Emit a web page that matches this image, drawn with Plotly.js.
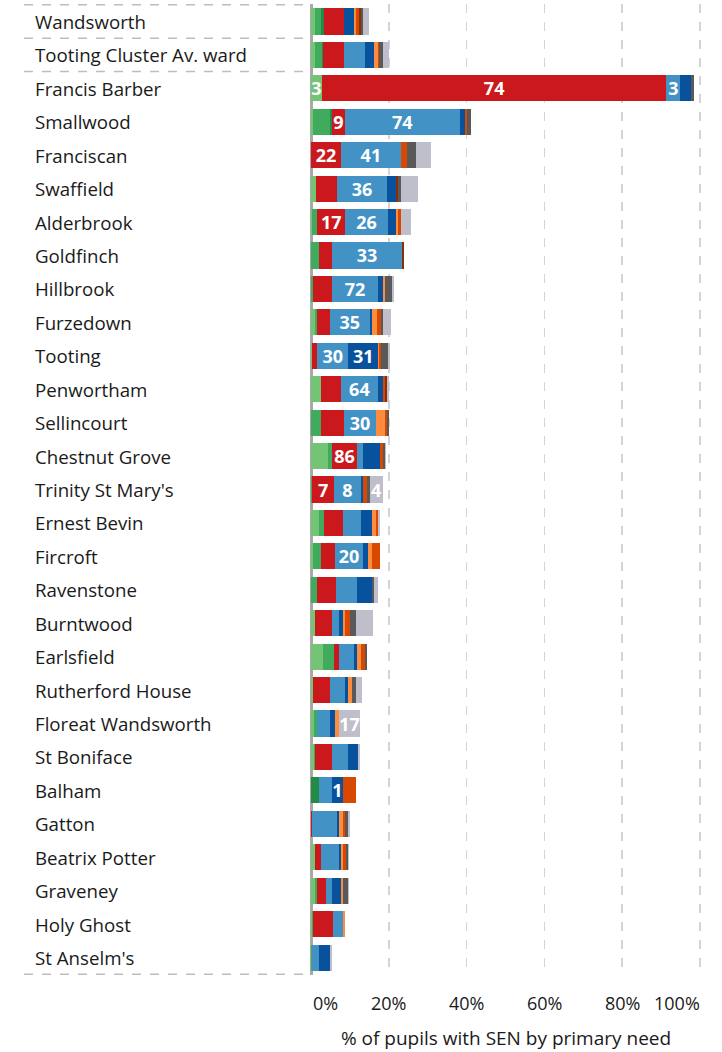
<!DOCTYPE html>
<html>
<head>
<meta charset="utf-8">
<script src="https://cdn.plot.ly/plotly-3.0.1.min.js"></script>
<style>html,body{margin:0;padding:0;background:#fff;}#chart{width:722px;height:1052px;}</style>
</head>
<body>
<div id="chart"></div>
<script>
const schools = ["Wandsworth","Tooting Cluster Av. ward","Francis Barber","Smallwood","Franciscan","Swaffield","Alderbrook","Goldfinch","Hillbrook","Furzedown","Tooting","Penwortham","Sellincourt","Chestnut Grove","Trinity St Mary's","Ernest Bevin","Fircroft","Ravenstone","Burntwood","Earlsfield","Rutherford House","Floreat Wandsworth","St Boniface","Balham","Gatton","Beatrix Potter","Graveney","Holy Ghost","St Anselm's"];

const needNames = ["SpLD","MLD","SLD","SEMH","SLCN","ASD","HI","VI","PD","Other","No assessment"];

// % of pupils with SEN, per primary need, in school order
const spld = [1.0,1.0,2.8,0.5,0,1.3,0.3,0,0,1.0,0.3,2.6,0,4.4,0,2.1,0.5,0,1.0,3.1,0.5,0.8,0.8,0,0,1.0,1.0,0.3,0];
const mld  = [1.5,1.9,0,4.4,0,0,1.3,2.1,0.5,0.5,0,0,2.6,1.0,0.3,1.3,2.1,1.5,0,2.8,0,0.8,0.3,0,0,0,0.5,0.3,0.3];
const sld  = [0.8,0.2,0,0.5,0,0,0,0,0,0,0,0,0,0,0,0,0,0,0,0,0,0,0,2.1,0,0,0,0,0];
const semh = [5.1,5.4,88.6,3.3,7.7,5.4,7.2,3.3,4.9,3.3,1.3,5.1,5.9,6.4,5.6,4.9,3.6,4.9,4.4,1.3,4.4,0,4.4,0,0.3,1.5,2.3,5.1,0];
const slcn = [0,5.4,3.6,29.5,15.4,12.8,11.0,18.0,11.8,10.3,8.0,9.5,8.2,1.5,6.9,4.6,7.2,5.4,1.8,3.9,3.9,3.3,3.9,3.3,6.4,4.6,1.5,2.6,1.8];
const asd  = [2.6,2.3,2.6,1.5,0,2.3,2.1,0,1.3,0.5,7.7,1.3,0,4.4,0.5,2.8,1.3,3.9,1.0,0.8,0.8,1.3,2.8,2.8,0.5,0.5,2.3,0,2.8];
const hi   = [0.5,1.0,0,0,0,0,0.5,0,0.5,1.5,0.3,0,2.3,0,0,1.0,1.0,0,0.5,1.0,1.0,1.0,0,0,1.0,0.5,0.5,0.5,0];
const vi   = [0.8,0.3,0,0.3,1.5,0,0.8,0,0,0.8,0.3,0.5,0.5,0.8,1.0,0.5,2.1,0,1.3,1.0,0,0,0,3.3,0.5,1.0,0,0,0];
const pd   = [0.5,0,0,0,0,0.5,0,0.5,0,0,0,0.5,0,0,0,0,0,0,0,0,0,0,0,0,0,0,0,0,0];
const oth  = [0.5,1.0,1.0,1.1,2.3,0.8,0,0,1.8,0.5,1.8,0,0.5,0.5,0.8,0,0,0.5,1.5,0.5,1.0,0,0,0,0.8,0.3,1.3,0,0];
const nsa  = [1.5,1.5,0,0,3.9,4.4,2.6,0,0.5,2.1,0.5,0.5,0,0.3,3.3,0.5,0,1.0,4.4,0,1.5,5.4,0.5,0,0.5,0.5,0.5,0,0.5];

// pupil counts printed on some segments: [school, need, label]
const segmentLabels = [
  ["Francis Barber","SpLD","3"],["Francis Barber","SEMH","74"],["Francis Barber","SLCN","3"],
  ["Smallwood","SEMH","9"],["Smallwood","SLCN","74"],
  ["Franciscan","SEMH","22"],["Franciscan","SLCN","41"],
  ["Swaffield","SLCN","36"],
  ["Alderbrook","SEMH","17"],["Alderbrook","SLCN","26"],
  ["Goldfinch","SLCN","33"],["Hillbrook","SLCN","72"],["Furzedown","SLCN","35"],
  ["Tooting","SLCN","30"],["Tooting","ASD","31"],
  ["Penwortham","SLCN","64"],["Sellincourt","SLCN","30"],
  ["Chestnut Grove","SEMH","86"],
  ["Trinity St Mary's","SEMH","7"],["Trinity St Mary's","SLCN","8"],["Trinity St Mary's","No assessment","4"],
  ["Fircroft","SLCN","20"],["Floreat Wandsworth","No assessment","17"],["Balham","ASD","1"]
];

const xTickVals = [0,20,40,60,80,100];
const xTickText = ["0%","20%","40%","60%","80%","100%"];

const series = [spld,mld,sld,semh,slcn,asd,hi,vi,pd,oth,nsa];
const colors = ["#74c476","#41ab5d","#238b45","#cb181d","#4292c6","#08519c","#fd8d3c","#d94801","#8c2d04","#595959","#bfbecb"];

const traces = series.map((vals,i)=>{
  const name = needNames[i];
  const text = schools.map(s=>{
    const f = segmentLabels.find(l=>l[0]===s && l[1]===name);
    return f ? f[2] : "";
  });
  return {
    type:"bar", orientation:"h", name:name,
    y: schools, x: vals,
    marker:{color:colors[i], line:{width:0}},
    text:text, textposition:"inside", insidetextanchor:"middle",
    textangle:0, constraintext:"none",
    insidetextfont:{family:"Open Sans", size:18, color:"#ffffff", weight:"bold"},
    hoverinfo:"x+y+name", cliponaxis:true
  };
});

const L = 311, R = 21, T = 4, B = 77;
const plotW = 722 - L - R;
const annotations = schools.map(s=>({
  xref:"paper", yref:"y", x:(33-L)/plotW, y:s, xanchor:"left", yanchor:"middle",
  text:s, showarrow:false, font:{family:"Open Sans", size:18.7, color:"#1a1a1a"}
}));
// x tick labels: first and last kept inside the plot width
xTickVals.forEach((v,i)=>{
  const first = i===0, last = i===xTickVals.length-1;
  annotations.push({
    xref:"x", yref:"paper", x:v, y:0, yshift:-28, yanchor:"middle",
    xanchor: first ? "left" : (last ? "right" : "center"),
    xshift: first ? 0 : (last ? 2 : 0),
    text:xTickText[i], showarrow:false,
    font:{family:"Open Sans", size:18, color:"#1a1a1a"}
  });
});

const sepY = [-0.5,0.5,1.5,schools.length-0.5];
const shapes = sepY.map(v=>({
  type:"line", xref:"paper", yref:"y", x0:(24-L)/plotW, x1:(307-L)/plotW, y0:v, y1:v,
  line:{color:"#bdbdbd", width:1.5, dash:"dash"}
}));

const layout = {
  width:722, height:1052,
  margin:{l:L, r:R, t:T, b:B},
  barmode:"stack", bargap:0.22,
  showlegend:false,
  paper_bgcolor:"#ffffff", plot_bgcolor:"#ffffff",
  font:{family:"Open Sans", size:17, color:"#1a1a1a"},
  xaxis:{
    range:[0,100.3], tickvals:xTickVals, ticktext:xTickText, showticklabels:false,
    showgrid:true, gridcolor:"#d4d4d4", gridwidth:1.5, griddash:"dash",
    zeroline:true, zerolinecolor:"#a9a9a9", zerolinewidth:3,
    showline:false, ticks:"",
    title:{text:"% of pupils with SEN by primary need", font:{family:"Open Sans", size:19, color:"#1a1a1a"}, standoff:56},
    fixedrange:true
  },
  yaxis:{
    autorange:"reversed", showticklabels:false, showgrid:false, zeroline:false,
    showline:false, ticks:"", fixedrange:true
  },
  annotations:annotations,
  shapes:shapes
};

Plotly.newPlot("chart", traces, layout, {displayModeBar:false, staticPlot:true});
</script>
</body>
</html>
